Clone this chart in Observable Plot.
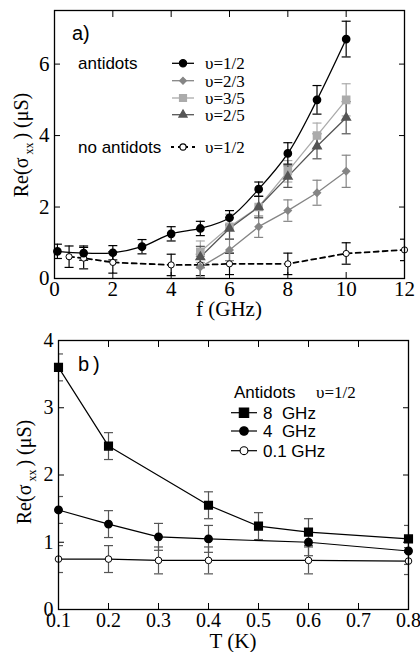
<!DOCTYPE html>
<html><head><meta charset="utf-8">
<script src="https://cdn.jsdelivr.net/npm/d3@7"></script>
<script src="https://cdn.jsdelivr.net/npm/@observablehq/plot@0.6"></script>
<style>body{margin:0;background:#fff;} #chart svg{display:block;} #chart svg text.tk{font-family:'Liberation Serif','Times New Roman',serif !important;}</style>
</head><body><div id="chart"></div>
<script>
// ---------- Panel a data: Re(sigma_xx) vs f (GHz) ----------
const fAnti12 = [0.1, 1, 2, 3, 4, 5, 6, 7, 8, 9, 10];
const anti12 = [0.76, 0.71, 0.72, 0.89, 1.25, 1.40, 1.70, 2.50, 3.50, 5.00, 6.70];
const anti12Err = [0.2, 0.2, 0.2, 0.2, 0.2, 0.2, 0.2, 0.2, 0.3, 0.4, 0.5];
const fFrac = [5, 6, 7, 8, 9, 10];
const anti23 = [0.32, 0.80, 1.45, 1.90, 2.40, 3.00];
const anti23Err = [0.3, 0.3, 0.3, 0.3, 0.35, 0.45];
const anti35 = [0.75, 1.45, 2.00, 3.00, 4.00, 5.00];
const anti35Err = [0.3, 0.35, 0.3, 0.3, 0.35, 0.45];
const anti25 = [0.60, 1.40, 2.00, 2.85, 3.70, 4.50];
const anti25Err = [0.3, 0.3, 0.3, 0.3, 0.35, 0.45];
const fNoAnti = [0.5, 1, 2, 4, 5, 6, 8, 10, 12];
const noAnti12 = [0.61, 0.57, 0.45, 0.38, 0.38, 0.41, 0.41, 0.70, 0.80];
const noAnti12Err = [0.3, 0.3, 0.3, 0.3, 0.3, 0.3, 0.3, 0.3, 0.3];
const xTicksA = [0, 2, 4, 6, 8, 10, 12];
const yTicksA = [0, 2, 4, 6];

// ---------- Panel b data: Re(sigma_xx) vs T (K) ----------
const T8 = [0.1, 0.2, 0.4, 0.5, 0.6, 0.8];
const g8 = [3.60, 2.43, 1.55, 1.24, 1.15, 1.05];
const g8Err = [0.2, 0.2, 0.2, 0.2, 0.2, 0.2];
const T4 = [0.1, 0.2, 0.3, 0.4, 0.6, 0.8];
const g4 = [1.48, 1.27, 1.08, 1.05, 1.00, 0.87];
const g4Err = [0.2, 0.2, 0.2, 0.2, 0.2, 0.2];
const T01 = [0.1, 0.2, 0.3, 0.4, 0.6, 0.8];
const g01 = [0.75, 0.75, 0.73, 0.73, 0.73, 0.72];
const g01Err = [0.2, 0.2, 0.2, 0.2, 0.2, 0.2];
const xTicksB = [0.1, 0.2, 0.3, 0.4, 0.5, 0.6, 0.7, 0.8];
const yTicksB = [0, 1, 2, 3, 4];

const SERIF = "'Liberation Serif', 'Times New Roman', serif";
const SANS = "'Liberation Sans', Arial, Helvetica, sans-serif";

function rows(xs, ys, es) {
  return xs.map((x, i) => ({x, y: ys[i], lo: ys[i] - es[i], hi: ys[i] + es[i]}));
}
const cap = {draw(ctx) { ctx.moveTo(-4.5, 0); ctx.lineTo(4.5, 0); }};

function errMarks(data, color, sw = 1.2) {
  return [
    Plot.ruleX(data, {x: "x", y1: "lo", y2: "hi", stroke: color, strokeWidth: sw, clip: true}),
    Plot.dot(data, {x: "x", y: "lo", symbol: cap, r: 3, stroke: color, fill: "none", strokeWidth: sw, clip: true}),
    Plot.dot(data, {x: "x", y: "hi", symbol: cap, r: 3, stroke: color, fill: "none", strokeWidth: sw, clip: true})
  ];
}

function axes(xt, yt, fs) {
  return [
    Plot.axisX({ticks: xt, tickSize: -6, tickPadding: 9, label: null, fontSize: fs, fontFamily: SERIF, tickFormat: d => String(d)}),
    Plot.axisX({anchor: "top", ticks: xt, tickSize: -6, label: null, tickFormat: () => ""}),
    Plot.axisY({ticks: yt, tickSize: -6, tickPadding: 11, label: null, fontSize: fs, fontFamily: SERIF, tickFormat: d => String(d)}),
    Plot.axisY({anchor: "right", ticks: yt, tickSize: -6, label: null, tickFormat: () => ""})
  ];
}

function txt(sel, x, y, s, font, size, anchor = "start") {
  return sel.append("text").attr("x", x).attr("y", y).attr("dy", "0.35em")
    .attr("text-anchor", anchor).style("font-family", font).style("font-size", size + "px")
    .attr("fill", "black").text(s);
}
function ylabel(sel, x, y) {
  const t = sel.append("text").attr("transform", `translate(${x},${y}) rotate(-90)`)
    .attr("text-anchor", "middle").style("font-family", SERIF).style("font-size", "20px").attr("fill", "black");
  t.append("tspan").text("Re(σ");
  t.append("tspan").attr("dy", 5).style("font-size", "12px").text(" xx ");
  t.append("tspan").attr("dy", -5).text(") (μS)");
}
function sym(sel, type, size, x, y, fill, stroke) {
  sel.append("path").attr("d", d3.symbol().type(type).size(size)())
    .attr("transform", `translate(${x},${y})`).attr("fill", fill).attr("stroke", stroke).attr("stroke-width", 1.1);
}
function seg(sel, x1, x2, y, color, dash, sw = 1.3) {
  const l = sel.append("line").attr("x1", x1).attr("x2", x2).attr("y1", y).attr("y2", y)
    .attr("stroke", color).attr("stroke-width", sw);
  if (dash) l.attr("stroke-dasharray", dash);
}
function serifTicks(chart, fs) {
  d3.select(chart).selectAll("g[aria-label*='tick label']")
    .attr("font-family", SERIF).attr("font-size", fs);
  d3.select(chart).selectAll("g[aria-label*='tick label'] text")
    .classed("tk", true).style("font-family", SERIF).style("font-size", fs + "px");
}

const C23 = "#858585", C35 = "#ababab", C25 = "#555555";

// ---------- Panel a ----------
const dA12 = rows(fAnti12, anti12, anti12Err);
const dA23 = rows(fFrac, anti23, anti23Err);
const dA35 = rows(fFrac, anti35, anti35Err);
const dA25 = rows(fFrac, anti25, anti25Err);
const dNo = rows(fNoAnti, noAnti12, noAnti12Err);

const chartA = Plot.plot({
  width: 420, height: 322, marginLeft: 54, marginRight: 16, marginTop: 10, marginBottom: 44,
  style: {fontFamily: SERIF, fontSize: "20px", color: "black", background: "white", overflow: "visible"},
  x: {domain: [0, 12]}, y: {domain: [0, 7.5]},
  marks: [
    ...errMarks(dNo, "black"),
    ...errMarks(dA23, C23),
    ...errMarks(dA35, C35),
    ...errMarks(dA25, C25),
    ...errMarks(dA12, "black"),
    Plot.line(dNo, {x: "x", y: "y", stroke: "black", strokeWidth: 1.8, strokeDasharray: "5,4"}),
    Plot.line(dA23, {x: "x", y: "y", stroke: C23, strokeWidth: 1.3}),
    Plot.line(dA35, {x: "x", y: "y", stroke: C35, strokeWidth: 1.3}),
    Plot.line(dA25, {x: "x", y: "y", stroke: C25, strokeWidth: 1.3}),
    Plot.line(dA12, {x: "x", y: "y", stroke: "black", strokeWidth: 1.3, curve: "catmull-rom"}),
    Plot.dot(dNo, {x: "x", y: "y", r: 3.1, fill: "white", stroke: "black", strokeWidth: 1}),
    Plot.dot(dA23, {x: "x", y: "y", symbol: "diamond2", r: 3.1, fill: C23, stroke: C23}),
    Plot.dot(dA35, {x: "x", y: "y", symbol: "square", r: 4.0, fill: C35, stroke: C35}),
    Plot.dot(dA25, {x: "x", y: "y", symbol: "triangle", r: 3.1, fill: C25, stroke: C25}),
    Plot.dot(dA12, {x: "x", y: "y", r: 3.6, fill: "black", stroke: "black"}),
    Plot.frame({stroke: "black", strokeWidth: 1.3}),
    ...axes(xTicksA, yTicksA, 21)
  ]
});
serifTicks(chartA, 21);
{
  const s = d3.select(chartA);
  ylabel(s, 28, 145);
  txt(s, 229, 309, "f (GHz)", SERIF, 21, "middle");
  txt(s, 72, 33, "a)", SANS, 20);
  txt(s, 78, 63, "antidots", SANS, 17);
  txt(s, 78, 147, "no antidots", SANS, 17);
  const rowsY = [63.3, 80.7, 98, 114.7];
  const labs = ["υ=1/2", "υ=2/3", "υ=3/5", "υ=2/5"];
  const cols = ["black", C23, C35, C25];
  const types = [d3.symbolCircle, d3.symbolDiamond2, d3.symbolSquare, d3.symbolTriangle];
  const sizes = [42, 30, 50, 30];
  rowsY.forEach((y, i) => {
    seg(s, 172, 194, y, cols[i], null);
    sym(s, types[i], sizes[i], 183, y, cols[i], cols[i]);
    txt(s, 205, y, labs[i], SERIF, 17);
  });
  seg(s, 171, 195, 147, "black", "3,4", 1.8);
  sym(s, d3.symbolCircle, 30, 183, 147, "white", "black");
  txt(s, 205, 147, "υ=1/2", SERIF, 17);
}

// ---------- Panel b ----------
const dB8 = rows(T8, g8, g8Err);
const dB4 = rows(T4, g4, g4Err);
const dB01 = rows(T01, g01, g01Err);
const CE = "#555555";
const chartB = Plot.plot({
  width: 420, height: 330, marginLeft: 58, marginRight: 12, marginTop: 18, marginBottom: 43,
  style: {fontFamily: SERIF, fontSize: "20px", color: "black", background: "white", overflow: "visible"},
  x: {domain: [0.1, 0.8]}, y: {domain: [0, 4]},
  marks: [
    ...errMarks(dB01, CE),
    ...errMarks(dB4, CE),
    ...errMarks(dB8, CE),
    Plot.line(dB01, {x: "x", y: "y", stroke: "black", strokeWidth: 1.2}),
    Plot.line(dB4, {x: "x", y: "y", stroke: "black", strokeWidth: 1.2}),
    Plot.line(dB8, {x: "x", y: "y", stroke: "black", strokeWidth: 1.2}),
    Plot.dot(dB01, {x: "x", y: "y", r: 3.3, fill: "white", stroke: "black", strokeWidth: 1}),
    Plot.dot(dB4, {x: "x", y: "y", r: 3.7, fill: "black", stroke: "black"}),
    Plot.dot(dB8, {x: "x", y: "y", symbol: "square", r: 4.3, fill: "black", stroke: "black"}),
    Plot.frame({stroke: "black", strokeWidth: 1.3}),
    ...axes(xTicksB, yTicksB, 20)
  ]
});
serifTicks(chartB, 20);
{
  const s = d3.select(chartB);
  ylabel(s, 31, 150);
  txt(s, 233, 319, "T (K)", SERIF, 21, "middle");
  txt(s, 78, 42, "b)", SANS, 20).style("letter-spacing", "4px");
  txt(s, 234, 70, "Antidots", SANS, 17);
  txt(s, 316, 70, "υ=1/2", SERIF, 17);
  const rowsY = [90.7, 109, 128.7];
  const labs = ["8  GHz", "4  GHz", "0.1 GHz"];
  rowsY.forEach((y, i) => {
    seg(s, 231, 257, y, "black", null, 1.2);
    txt(s, 263, y, labs[i], SANS, 17).style("white-space", "pre");
  });
  sym(s, d3.symbolSquare, 88, 244, rowsY[0], "black", "black");
  sym(s, d3.symbolCircle, 58, 244, rowsY[1], "black", "black");
  sym(s, d3.symbolCircle, 48, 244, rowsY[2], "white", "black");
}

document.getElementById("chart").append(chartA, chartB);
</script>
</body></html>
